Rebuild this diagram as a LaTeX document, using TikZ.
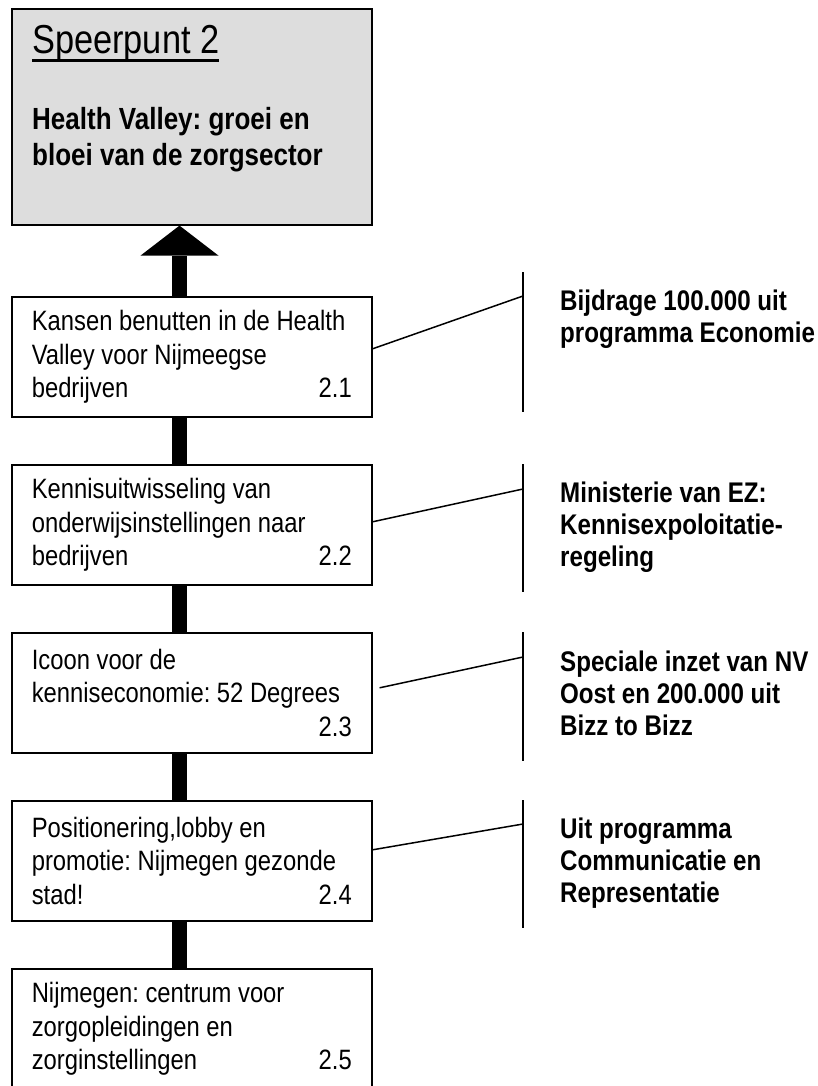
\documentclass[tikz,border=0pt]{standalone}
\usepackage{fontspec}
\setmainfont{Liberation Sans}[FakeStretch=0.85]
\usepackage{tikz}
\usetikzlibrary{arrows.meta}
\definecolor{doelgrijs}{HTML}{DDDDDD}
\frenchspacing
\newcommand\nr[1]{\mbox{}\hfill #1\hspace*{7pt}}
\newcommand\onderstreept[1]{\setbox0\hbox{#1}\rlap{\rule[-8pt]{\wd0}{2.5pt}}\box0}

\begin{document}
\begin{tikzpicture}[
      x=1pt, y=-1pt,
      doelbox/.style={draw, line width=1.6pt, fill=doelgrijs, anchor=north west,
                      minimum width=360pt, minimum height=216pt},
      actie/.style={draw, line width=1.6pt, anchor=north west, minimum width=360pt,
                    minimum height=120pt, text width=320pt, align=flush left, inner sep=0pt,
                    font=\fontsize{28}{33.3}\selectfont},
      bron/.style={anchor=north west, inner sep=0pt, text width=270pt, align=flush left,
                   font=\fontsize{28.4}{32}\selectfont\bfseries},
      balk/.style={line width=15pt},
      draad/.style={line width=1.5pt}]
    \useasboundingbox (0,0) rectangle (817,1086);
    \clip (0,0) rectangle (817,1086);
    \node[doelbox] (doel) at (11,8) {};
    \node[anchor=north west, inner sep=0pt, text width=318pt, align=flush left,
          font=\fontsize{30.6}{36}\selectfont] (doeltekst) at (32,25.5)
      {{\fontsize{40.4}{48}\selectfont\onderstreept{Speerpunt 2}}\\[40pt]
       \textbf{Health Valley: groei en}\\ \textbf{bloei van de zorgsector}};
    \node[actie] (a1) at (11,296) {Kansen benutten in de Health\\ Valley voor Nijmeegse\\ bedrijven\nr{2.1}};
    \node[actie] (a2) at (11,464) {Kennisuitwisseling van\\ onderwijsinstellingen naar\\ bedrijven\nr{2.2}};
    \node[actie] (a3) at (11,632) {Icoon voor de\\ kenniseconomie: 52 Degrees\\ \nr{2.3}};
    \node[actie] (a4) at (11,800) {Positionering,lobby en\\ promotie: Nijmegen gezonde\\ stad!\nr{2.4}};
    \node[actie] (a5) at (11,968) {Nijmegen: centrum voor\\ zorgopleidingen en\\ zorginstellingen\nr{2.5}};
    \coordinate (as) at (179.5,0);
    \draw[balk, -{Triangle[length=30pt, width=78pt, line width=0pt]}] (a1.north -| as) -- (doel.south -| as);
    \foreach \i [count=\j from 2] in {1,...,4}
      \draw[balk] (a\i.south -| as) -- (a\j.north -| as);
    \coordinate (f1b) at (523,272); \coordinate (f1e) at (523,412); \coordinate (f1k) at (523,296);
    \coordinate (f2b) at (523,464); \coordinate (f2e) at (523,592); \coordinate (f2k) at (523,489);
    \coordinate (f3b) at (523,632); \coordinate (f3e) at (523,761); \coordinate (f3k) at (523,657);
    \coordinate (f4b) at (523,800); \coordinate (f4e) at (523,928); \coordinate (f4k) at (523,824);
    \draw[draad] (f1b) -- (f1e); \draw[draad] ([yshift=8pt]a1.east) -- (f1k);
    \draw[draad] (f2b) -- (f2e); \draw[draad] ([yshift=3pt]a2.east) -- (f2k);
    \draw[draad] (f3b) -- (f3e); \draw[draad] ([xshift=7pt,yshift=5pt]a3.east) -- (f3k);
    \draw[draad] (f4b) -- (f4e); \draw[draad] ([yshift=11pt]a4.east) -- (f4k);
    \node[bron] (r1) at (560,289.5) {Bijdrage 100.000 uit\\ programma Economie};
    \node[bron] (r2) at (560,481.5) {Ministerie van EZ:\\ Kennisexpoloitatie-\\ regeling};
    \node[bron] (r3) at (560,650.5) {Speciale inzet van NV\\ Oost en 200.000 uit\\ Bizz to Bizz};
    \node[bron] (r4) at (560,817.5) {Uit programma\\ Communicatie en\\ Representatie};
  \end{tikzpicture}
\end{document}
